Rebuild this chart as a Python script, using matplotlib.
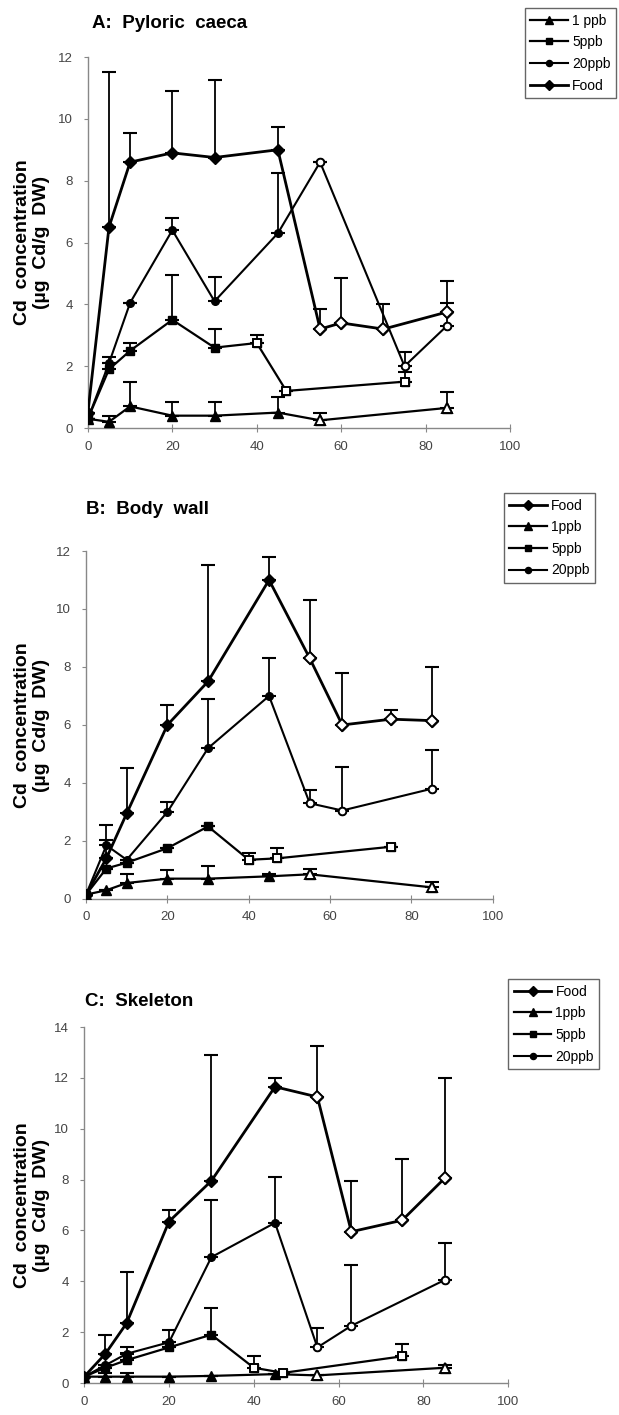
import numpy as np
import matplotlib
matplotlib.use('Agg')
import matplotlib.pyplot as plt

plt.rcParams['font.family'] = ['Liberation Sans', 'DejaVu Sans']

nan = np.nan

# Panel A: Pyloric caeca  (x = days, y = value, top = top of error bar)
a_food_x = [0, 5, 10, 20, 30, 45, 55, 60, 70, 85]
a_food_y = [0.5, 6.5, 8.6, 8.9, 8.75, 9.0, 3.2, 3.4, 3.2, 3.75]
a_food_top = [nan, 11.5, 9.55, 10.9, 11.25, 9.75, 3.85, 4.85, 4.0, 4.75]
a_20_x = [0, 5, 10, 20, 30, 45, 55, 75, 85]
a_20_y = [0.3, 2.1, 4.05, 6.4, 4.1, 6.3, 8.6, 2.0, 3.3]
a_20_top = [nan, nan, nan, 6.8, 4.9, 8.25, nan, 2.45, 4.05]
a_5_x = [0, 5, 10, 20, 30, 40, 47, 75]
a_5_y = [0.3, 1.9, 2.5, 3.5, 2.6, 2.75, 1.2, 1.5]
a_5_top = [nan, 2.3, 2.75, 4.95, 3.2, 3.0, nan, 1.8]
a_1_x = [0, 5, 10, 20, 30, 45, 55, 85]
a_1_y = [0.3, 0.2, 0.7, 0.4, 0.4, 0.5, 0.25, 0.65]
a_1_top = [nan, 0.4, 1.5, 0.85, 0.85, 1.0, 0.5, 1.15]

# Panel B: Body wall
b_food_x = [0, 5, 10, 20, 30, 45, 55, 63, 75, 85]
b_food_y = [0.15, 1.4, 2.95, 6.0, 7.5, 11.0, 8.3, 6.0, 6.2, 6.15]
b_food_top = [nan, 2.55, 4.5, 6.7, 11.5, 11.8, 10.3, 7.8, 6.5, 8.0]
b_20_x = [0, 5, 10, 20, 30, 45, 55, 63, 85]
b_20_y = [0.15, 1.85, 1.35, 3.0, 5.2, 7.0, 3.3, 3.05, 3.8]
b_20_top = [nan, 2.05, nan, 3.35, 6.9, 8.3, 3.75, 4.55, 5.15]
b_5_x = [0, 5, 10, 20, 30, 40, 47, 75]
b_5_y = [0.15, 1.05, 1.25, 1.75, 2.5, 1.35, 1.4, 1.8]
b_5_top = [nan, nan, nan, nan, nan, 1.6, 1.75, nan]
b_1_x = [0, 5, 10, 20, 30, 45, 55, 85]
b_1_y = [0.15, 0.3, 0.55, 0.7, 0.7, 0.78, 0.85, 0.4]
b_1_top = [nan, nan, 0.85, 1.0, 1.15, 0.85, 1.05, 0.6]

# Panel C: Skeleton
c_food_x = [0, 5, 10, 20, 30, 45, 55, 63, 75, 85]
c_food_y = [0.25, 1.15, 2.35, 6.35, 7.95, 11.65, 11.25, 5.95, 6.4, 8.05]
c_food_top = [nan, 1.9, 4.35, 6.8, 12.9, 12.0, 13.25, 7.95, 8.8, 12.0]
c_20_x = [0, 5, 10, 20, 30, 45, 55, 63, 85]
c_20_y = [0.25, 0.7, 1.15, 1.6, 4.95, 6.3, 1.4, 2.25, 4.05]
c_20_top = [nan, nan, 1.4, 2.1, 7.2, 8.1, 2.15, 4.65, 5.5]
c_5_x = [0, 5, 10, 20, 30, 40, 47, 75]
c_5_y = [0.25, 0.6, 0.9, 1.4, 1.9, 0.6, 0.4, 1.05]
c_5_top = [nan, nan, 1.2, nan, 2.95, 1.05, nan, 1.55]
c_1_x = [0, 5, 10, 20, 30, 45, 55, 85]
c_1_y = [0.25, 0.25, 0.25, 0.25, 0.28, 0.35, 0.3, 0.6]
c_1_top = [nan, 0.4, 0.4, nan, nan, nan, nan, 0.7]

series_style = {
    'Food': dict(marker='D', ms=6.5, lw=2.0),
    '20ppb': dict(marker='o', ms=5.5, lw=1.5),
    '5ppb': dict(marker='s', ms=5.5, lw=1.6),
    '1ppb': dict(marker='^', ms=6.5, lw=1.6),
}
# day from which markers are drawn hollow (depuration)
hollow_from = {'Food': 50, '20ppb': 50, '5ppb': 38, '1ppb': 50}


def draw(ax, key, label, x, y, top):
    x = np.array(x, float)
    y = np.array(y, float)
    top = np.array(top, float)
    st = series_style[key]
    up = np.where(np.isnan(top), 0, top - y)
    ax.errorbar(x, y, yerr=[np.zeros_like(up), up], fmt='none', ecolor='black',
                elinewidth=1.3, capsize=5, capthick=1.5, zorder=2)
    ax.plot(x, y, color='black', lw=st['lw'], marker=st['marker'], ms=st['ms'],
            mfc='black', mec='black', label=label, zorder=3)
    h = x >= hollow_from[key]
    ax.plot(x[h], y[h], ls='none', marker=st['marker'], ms=st['ms'],
            mfc='white', mec='black', mew=1.4, zorder=4)


def style(ax, ymax, ystep):
    ax.set_xlim(0, 100)
    ax.set_ylim(0, ymax)
    ax.set_xticks(np.arange(0, 101, 20))
    ax.set_yticks(np.arange(0, ymax + 0.1, ystep))
    for s in ['top', 'right']:
        ax.spines[s].set_visible(False)
    for s in ['left', 'bottom']:
        ax.spines[s].set_color('#888888')
        ax.spines[s].set_linewidth(1.0)
    ax.tick_params(axis='x', direction='inout', length=6, color='#888888',
                   labelsize=9.5, labelcolor='#444444', pad=6)
    ax.tick_params(axis='y', direction='out', length=3, color='#888888',
                   labelsize=9.5, labelcolor='#444444', pad=8)
    ax.set_ylabel('Cd  concentration\n(\u00b5g  Cd/g  DW)', fontsize=14,
                  fontweight='bold', linespacing=1.15)
    ax.yaxis.set_label_coords(0.081, 0.5, transform=ax.figure.transFigure)
    pos = ax.get_position()
    ax.yaxis.label.set_y((pos.y0 + pos.y1) / 2)


def legend(ax, handles, labels, x, y):
    ax.legend(handles, labels, loc='upper left', bbox_to_anchor=(x, y),
              bbox_transform=fig.transFigure, fontsize=10, fancybox=False,
              edgecolor='#666666', handlelength=2.7, handletextpad=0.3,
              borderaxespad=0, labelspacing=0.55, markerscale=0.8,
              borderpad=0.4, framealpha=1)


fig = plt.figure(figsize=(6.19, 14.15), dpi=100)
axA = fig.add_axes([0.142, 0.6975, 0.682, 0.2622])
axB = fig.add_axes([0.139, 0.3647, 0.657, 0.2459])
axC = fig.add_axes([0.136, 0.0226, 0.685, 0.2516])

draw(axA, 'Food', 'Food', a_food_x, a_food_y, a_food_top)
draw(axA, '20ppb', '20ppb', a_20_x, a_20_y, a_20_top)
draw(axA, '5ppb', '5ppb', a_5_x, a_5_y, a_5_top)
draw(axA, '1ppb', '1 ppb', a_1_x, a_1_y, a_1_top)
style(axA, 12, 2)
hA, lA = axA.get_legend_handles_labels()
legend(axA, hA[::-1], lA[::-1], 0.848, 0.9943)

draw(axB, 'Food', 'Food', b_food_x, b_food_y, b_food_top)
draw(axB, '1ppb', '1ppb', b_1_x, b_1_y, b_1_top)
draw(axB, '5ppb', '5ppb', b_5_x, b_5_y, b_5_top)
draw(axB, '20ppb', '20ppb', b_20_x, b_20_y, b_20_top)
style(axB, 12, 2)
hB, lB = axB.get_legend_handles_labels()
legend(axB, hB, lB, 0.814, 0.6516)

draw(axC, 'Food', 'Food', c_food_x, c_food_y, c_food_top)
draw(axC, '1ppb', '1ppb', c_1_x, c_1_y, c_1_top)
draw(axC, '5ppb', '5ppb', c_5_x, c_5_y, c_5_top)
draw(axC, '20ppb', '20ppb', c_20_x, c_20_y, c_20_top)
style(axC, 14, 2)
hC, lC = axC.get_legend_handles_labels()
legend(axC, hC, lC, 0.821, 0.3081)

fig.text(92 / 619, 1 - 24 / 1415, 'A:  Pyloric  caeca', fontsize=13.5,
         fontweight='bold', va='center')
fig.text(86 / 619, 1 - 510 / 1415, 'B:  Body  wall', fontsize=13.5,
         fontweight='bold', va='center')
fig.text(85 / 619, 1 - 1002 / 1415, 'C:  Skeleton', fontsize=13.5,
         fontweight='bold', va='center')

fig.savefig('out.png', dpi=100)
